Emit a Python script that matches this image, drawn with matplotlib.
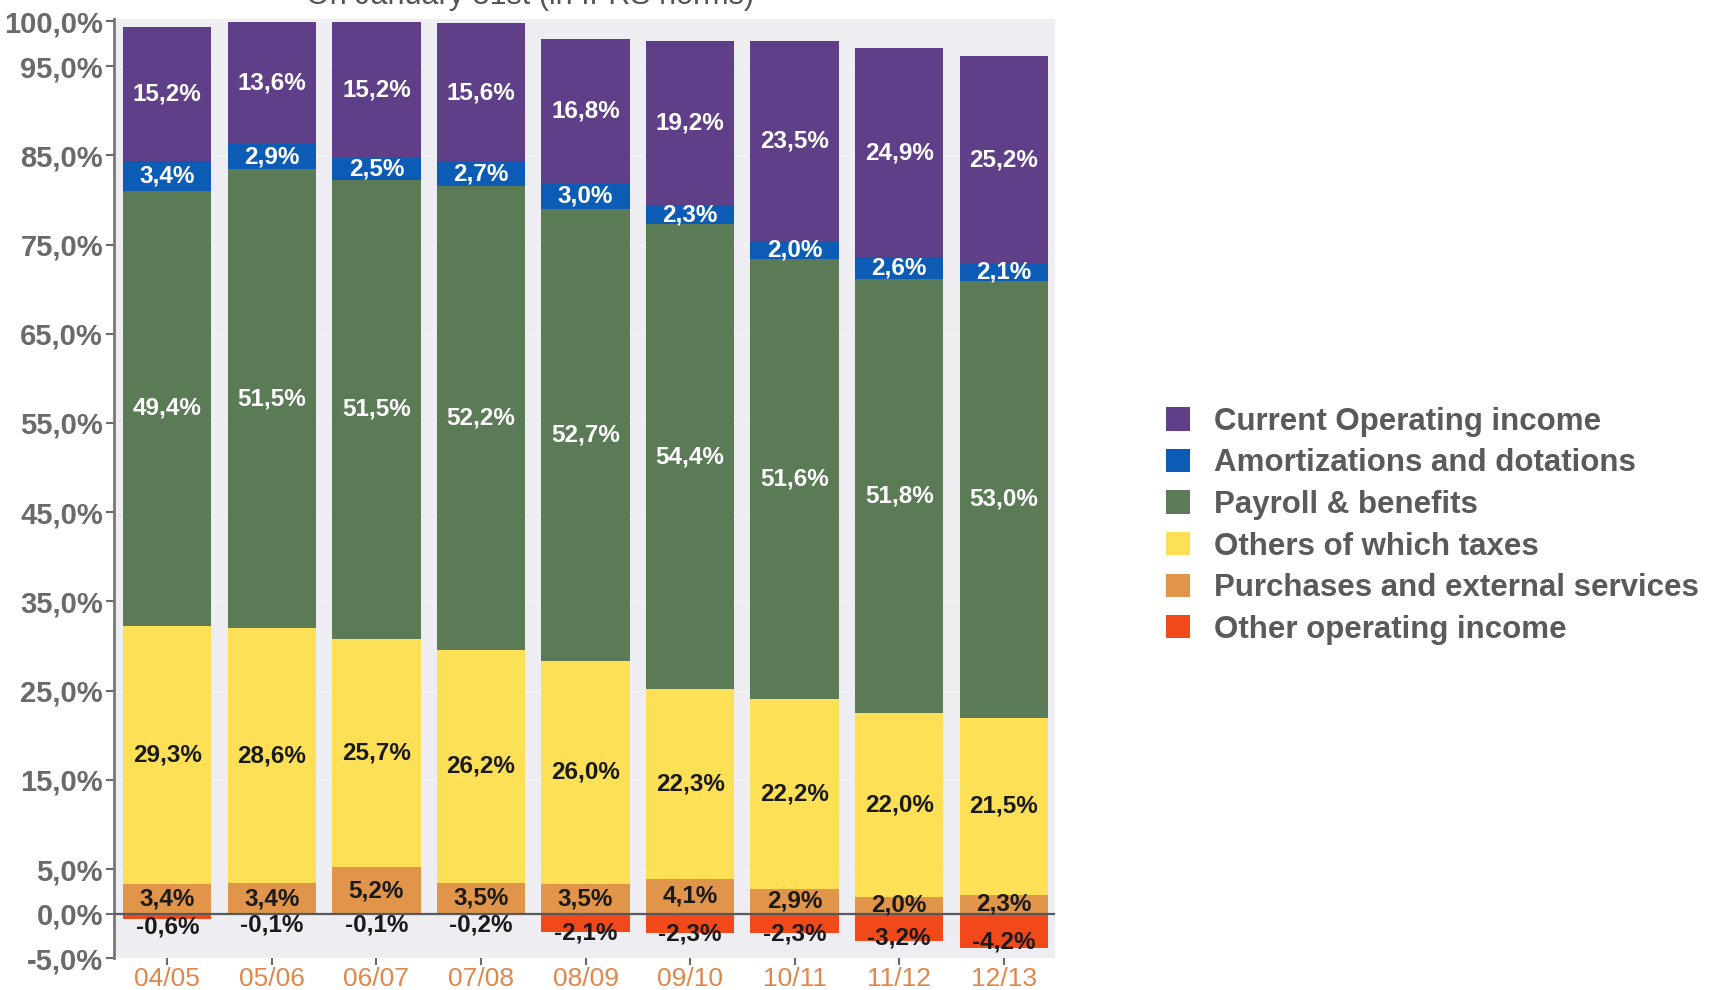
import matplotlib
matplotlib.use("Agg")
import matplotlib.pyplot as plt
from matplotlib.patches import Patch
from matplotlib.ticker import FixedLocator
import numpy as np

# data: shares of turnover per fiscal year (labels as printed)
years = ['04/05', '05/06', '06/07', '07/08', '08/09', '09/10', '10/11', '11/12', '12/13']
purchases = [3.4, 3.4, 5.2, 3.5, 3.5, 4.1, 2.9, 2.0, 2.3]
others_taxes = [29.3, 28.6, 25.7, 26.2, 26.0, 22.3, 22.2, 22.0, 21.5]
payroll = [49.4, 51.5, 51.5, 52.2, 52.7, 54.4, 51.6, 51.8, 53.0]
amortizations = [3.4, 2.9, 2.5, 2.7, 3.0, 2.3, 2.0, 2.6, 2.1]
current_op = [15.2, 13.6, 15.2, 15.6, 16.8, 19.2, 23.5, 24.9, 25.2]
other_op_income = [-0.6, -0.1, -0.1, -0.2, -2.1, -2.3, -2.3, -3.2, -4.2]
y_ticks = [-5, 0, 5, 15, 25, 35, 45, 55, 65, 75, 85, 95, 100]

series = [
    ('Purchases and external services', purchases, '#e1954b', '#1a1a1a'),
    ('Others of which taxes', others_taxes, '#fde055', '#1a1a1a'),
    ('Payroll & benefits', payroll, '#5b7a56', 'white'),
    ('Amortizations and dotations', amortizations, '#0c5cb6', 'white'),
    ('Current Operating income', current_op, '#5f3f88', 'white'),
]
neg_color = '#f2491b'

def fmt(v):
    return f"{v:.1f}".replace('.', ',') + '%'

narrow = ['Liberation Sans Narrow', 'Liberation Sans', 'DejaVu Sans']
sans = ['Liberation Sans', 'DejaVu Sans']

fig = plt.figure(figsize=(17.09, 9.90), dpi=100)
ax = fig.add_axes([0.0667, 0.032, 0.5506, 0.949])
ax.set_facecolor('#ededf2')

x = np.arange(len(years))
width = 0.845

# 100% stacked: every bar is scaled so |pos| + |neg| = 100
total = np.sum([np.array(s[1]) for s in series], axis=0) + np.abs(other_op_income)
scale = 100.0 / total

bottom = np.zeros(len(years))
for name, vals, col, tcol in series:
    h = np.array(vals) * scale
    ax.bar(x, h, width, bottom=bottom, color=col, zorder=3)
    for xi, b, hi, v in zip(x, bottom, h, vals):
        ax.text(xi, b + hi / 2, fmt(v), ha='center', va='center', color=tcol,
                fontsize=17.5, fontweight='bold', family=sans, zorder=5)
    bottom = bottom + h

neg = np.array(other_op_income) * scale
ax.bar(x, neg, width, color=neg_color, zorder=3)
for xi, hi, v in zip(x, neg, other_op_income):
    ax.text(xi, hi / 2 - 1.2, fmt(v), ha='center', va='center', color='#1a1a1a',
            fontsize=17.5, fontweight='bold', family=sans, zorder=5)

ax.axhline(0, color='#555a60', lw=1.6, zorder=4)

ax.set_xlim(-0.51, len(years) - 0.51)
ax.set_ylim(-5, 100.3)
ax.yaxis.set_major_locator(FixedLocator(y_ticks))
ax.set_yticklabels([fmt(t) for t in y_ticks], family=narrow, fontsize=21,
                   fontweight='bold', color='#6a6a6a')
ax.set_xticks(x)
ax.set_xticklabels(years, family=narrow, fontsize=19, color='#e0874a')
ax.tick_params(axis='y', length=6, width=1.5, color='#6a6a6a', pad=2)
ax.tick_params(axis='x', length=5, width=1.5, color='#6a6a6a', pad=1.5)
ax.grid(axis='y', color='#f4f4f7', lw=0.8, zorder=0)

for side in ['top', 'right', 'bottom']:
    ax.spines[side].set_visible(False)
ax.spines['left'].set_color('#777777')
ax.spines['left'].set_linewidth(2)

# title is cut off by the top edge in the original
fig.text(0.31, 1.004, 'On January 31st (in IFRS norms)', ha='center', va='center',
         fontsize=22, color='#555555', family=sans)

handles = [Patch(facecolor=s[2]) for s in reversed(series)]
labels = [s[0] for s in reversed(series)]
handles.append(Patch(facecolor=neg_color))
labels.append('Other operating income')
fig.legend(handles, labels, loc='upper left', bbox_to_anchor=(0.682, 0.589),
           frameon=False, borderpad=0, borderaxespad=0,
           handlelength=0.77, handleheight=0.77, handletextpad=0.77,
           labelspacing=0.37,
           prop={'family': sans, 'weight': 'bold', 'size': 22.5}, labelcolor='#5a5a5a')

fig.savefig('out.png', dpi=100)
